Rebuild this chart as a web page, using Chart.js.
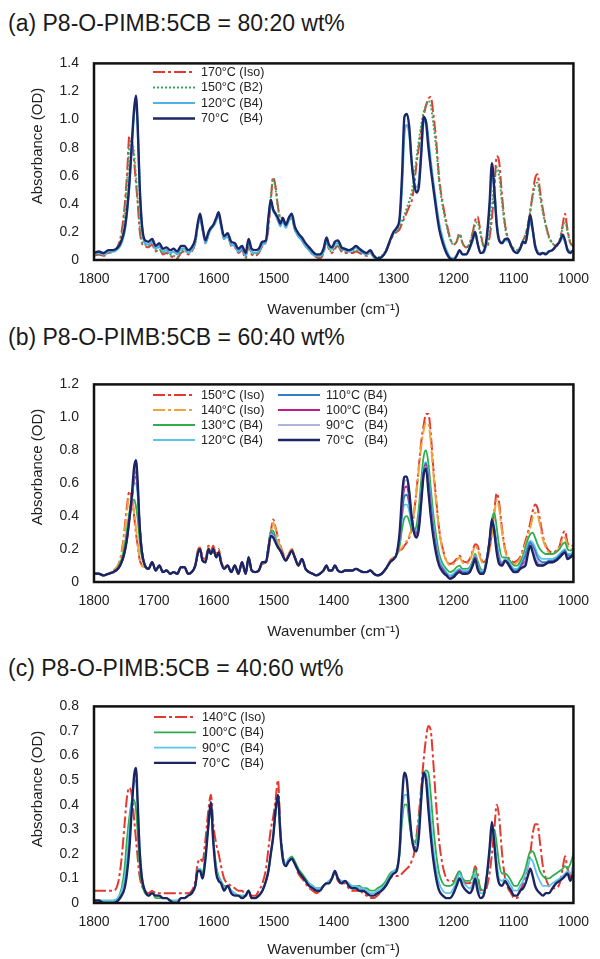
<!DOCTYPE html>
<html>
<head>
<meta charset="utf-8">
<script src="https://cdn.jsdelivr.net/npm/chart.js@4.4.1/dist/chart.umd.min.js"></script>
<style>
  html, body { margin: 0; padding: 0; background: #fff; overflow: hidden; }
  body { width: 600px; height: 959px; position: relative; font-family: "Liberation Sans", Arial, sans-serif; }
  .ptitle { position: absolute; left: 8px; font-size: 23px; line-height: 28px; color: #1a1a1a; white-space: nowrap; }
  canvas { position: absolute; left: 0; }
</style>
</head>
<body>
<div class="ptitle" style="top:9px">(a) P8-O-PIMB:5CB = 80:20 wt%</div>
<div class="ptitle" style="top:323px">(b) P8-O-PIMB:5CB = 60:40 wt%</div>
<div class="ptitle" style="top:654px">(c) P8-O-PIMB:5CB = 40:60 wt%</div>
<canvas id="chartA" width="600" height="285" style="top:40px"></canvas>
<canvas id="chartB" width="600" height="286" style="top:361px"></canvas>
<canvas id="chartC" width="600" height="276" style="top:683px"></canvas>
<script>
// shared wavenumber grid (cm-1)
const wavenumbers = [
  1800,1792,1784,1776,1768,1760,1754,1749,1745,1741,
  1737,1733,1730,1727,1724,1720,1715,1709,1703,1697,
  1691,1685,1679,1673,1667,1661,1655,1649,1643,1637,
  1631,1627,1623,1619,1614,1609,1605,1601,1596,1592,
  1588,1583,1577,1571,1565,1559,1553,1547,1542,1537,
  1531,1525,1519,1513,1509,1505,1501,1497,1493,1489,
  1485,1480,1475,1470,1465,1459,1453,1447,1441,1435,
  1429,1423,1417,1412,1408,1403,1398,1393,1387,1381,
  1375,1369,1363,1357,1351,1345,1339,1333,1327,1320,
  1313,1306,1300,1295,1290,1286,1282,1278,1274,1270,
  1266,1262,1258,1254,1250,1246,1242,1238,1234,1229,
  1224,1218,1212,1206,1200,1195,1190,1185,1179,1173,
  1168,1164,1160,1155,1150,1145,1140,1136,1132,1128,
  1124,1119,1114,1109,1104,1099,1094,1089,1084,1080,
  1076,1072,1068,1064,1060,1056,1051,1046,1041,1035,
  1029,1023,1018,1014,1010,1005,1000
];
const xTicks = [1800, 1700, 1600, 1500, 1400, 1300, 1200, 1100, 1000];

// (a) 80:20 wt%
const a170 = [
  0.03,0.04,0.03,0.05,0.06,0.10,0.20,0.38,0.60,0.88,
  0.86,0.70,0.55,0.40,0.22,0.12,0.10,0.09,0.11,0.06,
  0.08,0.04,0.05,0.03,0.02,0.01,0.05,0.06,0.04,0.06,
  0.12,0.24,0.31,0.22,0.12,0.18,0.22,0.24,0.29,0.33,
  0.25,0.15,0.17,0.10,0.09,0.05,0.07,0.01,0.10,0.04,
  0.03,0.05,0.10,0.13,0.22,0.42,0.59,0.52,0.38,0.30,
  0.30,0.25,0.28,0.30,0.22,0.17,0.14,0.10,0.07,0.04,
  0.02,0.01,0.05,0.13,0.08,0.05,0.08,0.10,0.06,0.05,
  0.05,0.05,0.06,0.05,0.04,0.03,0.05,0.02,0.01,0.02,
  0.06,0.13,0.18,0.20,0.22,0.26,0.30,0.34,0.38,0.42,
  0.52,0.68,0.80,0.92,1.02,1.10,1.15,1.16,1.05,0.85,
  0.58,0.40,0.27,0.16,0.11,0.13,0.19,0.12,0.09,0.12,
  0.20,0.28,0.31,0.20,0.10,0.09,0.16,0.30,0.50,0.74,
  0.70,0.45,0.25,0.15,0.10,0.08,0.07,0.09,0.14,0.18,
  0.25,0.35,0.47,0.58,0.61,0.50,0.36,0.25,0.17,0.12,
  0.10,0.14,0.25,0.33,0.22,0.12,0.10
];
const a150 = [
  0.04,0.04,0.04,0.05,0.06,0.09,0.17,0.32,0.55,0.80,
  0.85,0.75,0.60,0.44,0.26,0.14,0.11,0.10,0.12,0.07,
  0.09,0.05,0.06,0.04,0.03,0.02,0.06,0.07,0.05,0.07,
  0.13,0.25,0.31,0.22,0.13,0.19,0.22,0.24,0.29,0.33,
  0.25,0.16,0.18,0.11,0.10,0.06,0.08,0.02,0.11,0.05,
  0.04,0.06,0.11,0.14,0.25,0.45,0.58,0.50,0.37,0.30,
  0.30,0.25,0.28,0.30,0.22,0.17,0.14,0.10,0.07,0.05,
  0.03,0.02,0.06,0.13,0.08,0.06,0.09,0.10,0.07,0.06,
  0.06,0.06,0.07,0.06,0.05,0.04,0.05,0.03,0.02,0.03,
  0.07,0.14,0.19,0.21,0.24,0.28,0.32,0.37,0.42,0.48,
  0.58,0.72,0.85,0.96,1.05,1.10,1.13,1.10,0.98,0.80,
  0.56,0.38,0.25,0.15,0.11,0.13,0.18,0.12,0.09,0.12,
  0.19,0.25,0.27,0.18,0.10,0.10,0.20,0.38,0.55,0.66,
  0.60,0.40,0.23,0.14,0.10,0.08,0.07,0.09,0.14,0.18,
  0.25,0.35,0.45,0.53,0.55,0.46,0.34,0.24,0.16,0.12,
  0.10,0.14,0.23,0.28,0.20,0.12,0.10
];
const a120 = [
  0.04,0.05,0.04,0.06,0.06,0.08,0.12,0.20,0.33,0.52,
  0.80,1.05,1.12,0.93,0.55,0.24,0.12,0.11,0.13,0.08,
  0.10,0.06,0.07,0.05,0.06,0.04,0.08,0.08,0.05,0.07,
  0.13,0.24,0.31,0.22,0.12,0.18,0.22,0.24,0.28,0.32,
  0.24,0.15,0.17,0.11,0.10,0.06,0.08,0.03,0.13,0.06,
  0.05,0.06,0.11,0.13,0.28,0.41,0.35,0.32,0.28,0.24,
  0.28,0.23,0.28,0.31,0.22,0.17,0.14,0.10,0.07,0.04,
  0.03,0.03,0.06,0.14,0.09,0.08,0.11,0.12,0.08,0.07,
  0.06,0.07,0.09,0.07,0.05,0.04,0.06,0.02,0.01,0.02,
  0.06,0.14,0.20,0.22,0.28,0.52,0.90,0.96,0.90,0.70,
  0.56,0.52,0.56,0.78,0.98,1.00,0.86,0.70,0.56,0.40,
  0.26,0.15,0.07,0.02,0.01,0.03,0.06,0.04,0.04,0.08,
  0.14,0.19,0.12,0.05,0.05,0.13,0.36,0.62,0.50,0.27,
  0.15,0.12,0.14,0.14,0.10,0.06,0.05,0.08,0.12,0.12,
  0.20,0.27,0.21,0.11,0.06,0.05,0.05,0.05,0.06,0.07,
  0.10,0.13,0.16,0.13,0.08,0.06,0.07
];
const a70 = [
  0.05,0.06,0.05,0.07,0.07,0.09,0.14,0.22,0.35,0.55,
  0.82,1.08,1.17,0.95,0.55,0.25,0.14,0.13,0.15,0.10,
  0.12,0.08,0.09,0.07,0.08,0.06,0.10,0.10,0.07,0.09,
  0.15,0.26,0.33,0.24,0.14,0.20,0.23,0.25,0.30,0.34,
  0.26,0.17,0.19,0.13,0.12,0.08,0.10,0.05,0.15,0.08,
  0.07,0.08,0.13,0.14,0.30,0.43,0.36,0.33,0.30,0.26,
  0.30,0.25,0.30,0.33,0.24,0.19,0.16,0.12,0.09,0.06,
  0.04,0.04,0.08,0.16,0.11,0.09,0.13,0.14,0.09,0.08,
  0.07,0.08,0.10,0.08,0.06,0.05,0.07,0.03,0.01,0.02,
  0.06,0.14,0.20,0.23,0.30,0.60,1.02,1.04,0.95,0.70,
  0.55,0.48,0.52,0.75,1.02,0.98,0.80,0.65,0.52,0.36,
  0.22,0.12,0.05,0.01,0.00,0.03,0.07,0.04,0.04,0.09,
  0.15,0.20,0.12,0.05,0.06,0.15,0.40,0.69,0.50,0.25,
  0.14,0.12,0.15,0.15,0.10,0.06,0.05,0.08,0.13,0.12,
  0.22,0.32,0.22,0.10,0.05,0.04,0.05,0.04,0.06,0.07,
  0.10,0.13,0.18,0.14,0.07,0.05,0.07
];

// (b) 60:40 wt%
const b150 = [
  0.05,0.05,0.04,0.05,0.07,0.10,0.18,0.32,0.46,0.55,
  0.52,0.40,0.30,0.22,0.14,0.10,0.09,0.08,0.12,0.07,
  0.10,0.06,0.07,0.05,0.06,0.05,0.09,0.09,0.05,0.06,
  0.10,0.19,0.21,0.15,0.14,0.22,0.19,0.22,0.17,0.20,
  0.13,0.09,0.10,0.06,0.10,0.05,0.12,0.05,0.14,0.07,
  0.06,0.07,0.11,0.12,0.18,0.30,0.38,0.33,0.27,0.22,
  0.18,0.14,0.17,0.20,0.15,0.10,0.14,0.08,0.06,0.05,
  0.04,0.05,0.07,0.10,0.07,0.07,0.10,0.07,0.06,0.07,
  0.07,0.07,0.08,0.07,0.06,0.06,0.07,0.05,0.04,0.05,
  0.08,0.13,0.15,0.17,0.19,0.20,0.22,0.24,0.27,0.32,
  0.42,0.55,0.70,0.85,0.95,1.02,1.02,0.90,0.70,0.50,
  0.32,0.20,0.13,0.11,0.12,0.14,0.16,0.13,0.12,0.14,
  0.19,0.23,0.22,0.15,0.12,0.14,0.20,0.30,0.43,0.54,
  0.48,0.32,0.20,0.15,0.13,0.12,0.13,0.15,0.20,0.25,
  0.30,0.36,0.43,0.47,0.45,0.38,0.28,0.22,0.19,0.18,
  0.19,0.22,0.29,0.31,0.24,0.22,0.22
];
const b140 = [
  0.05,0.05,0.04,0.05,0.07,0.10,0.17,0.30,0.43,0.52,
  0.51,0.42,0.33,0.24,0.15,0.10,0.09,0.08,0.12,0.07,
  0.10,0.06,0.07,0.05,0.06,0.05,0.09,0.09,0.05,0.06,
  0.10,0.18,0.21,0.14,0.13,0.21,0.18,0.21,0.16,0.19,
  0.13,0.09,0.10,0.06,0.10,0.05,0.12,0.05,0.14,0.07,
  0.06,0.07,0.11,0.12,0.18,0.29,0.36,0.32,0.26,0.21,
  0.17,0.14,0.17,0.20,0.15,0.10,0.14,0.08,0.06,0.05,
  0.04,0.05,0.07,0.10,0.07,0.07,0.10,0.07,0.06,0.07,
  0.07,0.07,0.08,0.07,0.06,0.06,0.07,0.05,0.04,0.05,
  0.08,0.13,0.15,0.17,0.19,0.21,0.23,0.25,0.28,0.33,
  0.42,0.54,0.68,0.82,0.92,0.97,0.96,0.85,0.67,0.48,
  0.31,0.19,0.13,0.10,0.11,0.13,0.15,0.12,0.11,0.13,
  0.18,0.22,0.20,0.14,0.11,0.13,0.19,0.29,0.41,0.50,
  0.45,0.30,0.19,0.14,0.12,0.11,0.12,0.14,0.19,0.23,
  0.28,0.33,0.39,0.42,0.41,0.35,0.26,0.21,0.18,0.17,
  0.18,0.21,0.26,0.27,0.22,0.20,0.20
];
const b130 = [
  0.05,0.05,0.04,0.05,0.06,0.09,0.14,0.22,0.32,0.42,
  0.49,0.50,0.46,0.38,0.26,0.15,0.10,0.08,0.12,0.07,
  0.10,0.06,0.07,0.05,0.06,0.05,0.09,0.09,0.05,0.06,
  0.10,0.17,0.20,0.13,0.12,0.20,0.17,0.20,0.15,0.18,
  0.12,0.08,0.10,0.06,0.10,0.05,0.12,0.05,0.15,0.07,
  0.06,0.07,0.12,0.13,0.22,0.31,0.31,0.27,0.22,0.19,
  0.16,0.13,0.16,0.19,0.15,0.10,0.14,0.08,0.06,0.05,
  0.04,0.05,0.07,0.10,0.07,0.07,0.10,0.07,0.06,0.07,
  0.07,0.07,0.08,0.07,0.06,0.06,0.07,0.05,0.04,0.05,
  0.08,0.12,0.14,0.17,0.22,0.32,0.39,0.40,0.37,0.32,
  0.31,0.34,0.45,0.62,0.76,0.80,0.72,0.57,0.42,0.28,
  0.17,0.11,0.08,0.06,0.07,0.09,0.10,0.08,0.08,0.09,
  0.13,0.17,0.13,0.08,0.07,0.14,0.24,0.38,0.42,0.33,
  0.22,0.15,0.15,0.14,0.12,0.10,0.10,0.12,0.16,0.21,
  0.26,0.29,0.30,0.27,0.23,0.20,0.18,0.17,0.17,0.17,
  0.18,0.20,0.23,0.24,0.20,0.19,0.20
];
const b120 = [
  0.05,0.05,0.04,0.05,0.06,0.08,0.12,0.18,0.27,0.40,
  0.52,0.60,0.60,0.52,0.36,0.19,0.10,0.08,0.12,0.07,
  0.10,0.06,0.07,0.05,0.06,0.05,0.09,0.09,0.05,0.06,
  0.10,0.17,0.20,0.13,0.12,0.20,0.17,0.20,0.15,0.18,
  0.12,0.08,0.10,0.06,0.10,0.05,0.12,0.05,0.15,0.07,
  0.06,0.07,0.12,0.12,0.21,0.30,0.29,0.26,0.22,0.19,
  0.16,0.13,0.16,0.19,0.15,0.10,0.14,0.08,0.06,0.05,
  0.04,0.05,0.07,0.10,0.07,0.07,0.10,0.07,0.06,0.07,
  0.07,0.07,0.08,0.07,0.06,0.06,0.07,0.05,0.04,0.05,
  0.08,0.12,0.14,0.17,0.25,0.39,0.47,0.47,0.43,0.35,
  0.31,0.31,0.39,0.55,0.69,0.73,0.65,0.50,0.36,0.23,
  0.14,0.09,0.06,0.04,0.05,0.07,0.08,0.07,0.07,0.08,
  0.12,0.16,0.11,0.07,0.07,0.14,0.25,0.37,0.34,0.24,
  0.16,0.12,0.14,0.13,0.10,0.08,0.08,0.10,0.14,0.18,
  0.23,0.25,0.24,0.21,0.17,0.15,0.14,0.14,0.14,0.14,
  0.15,0.17,0.19,0.20,0.17,0.17,0.19
];
const b110 = [
  0.05,0.05,0.04,0.05,0.06,0.08,0.12,0.18,0.26,0.39,
  0.50,0.62,0.64,0.55,0.36,0.19,0.10,0.08,0.12,0.07,
  0.10,0.06,0.07,0.05,0.06,0.05,0.09,0.09,0.05,0.06,
  0.10,0.17,0.20,0.13,0.12,0.20,0.17,0.20,0.15,0.18,
  0.12,0.08,0.10,0.06,0.10,0.05,0.12,0.05,0.15,0.07,
  0.06,0.07,0.12,0.12,0.21,0.30,0.29,0.25,0.21,0.19,
  0.16,0.13,0.16,0.19,0.15,0.10,0.14,0.08,0.06,0.05,
  0.04,0.05,0.07,0.10,0.07,0.07,0.10,0.07,0.06,0.07,
  0.07,0.07,0.08,0.07,0.06,0.06,0.07,0.05,0.04,0.05,
  0.08,0.12,0.14,0.17,0.26,0.42,0.52,0.53,0.47,0.37,
  0.31,0.30,0.37,0.52,0.67,0.72,0.62,0.47,0.33,0.21,
  0.12,0.08,0.05,0.03,0.04,0.06,0.07,0.06,0.06,0.07,
  0.11,0.15,0.10,0.06,0.06,0.13,0.25,0.36,0.32,0.22,
  0.14,0.11,0.13,0.12,0.09,0.07,0.07,0.09,0.13,0.16,
  0.21,0.24,0.22,0.19,0.15,0.13,0.12,0.12,0.13,0.13,
  0.14,0.16,0.18,0.19,0.16,0.16,0.18
];
const b100 = [
  0.05,0.05,0.04,0.05,0.06,0.08,0.12,0.18,0.26,0.38,
  0.48,0.64,0.68,0.57,0.36,0.19,0.10,0.08,0.12,0.07,
  0.10,0.06,0.07,0.05,0.06,0.05,0.09,0.09,0.05,0.06,
  0.10,0.17,0.20,0.13,0.12,0.20,0.17,0.20,0.15,0.18,
  0.12,0.08,0.10,0.06,0.10,0.05,0.12,0.05,0.15,0.07,
  0.06,0.07,0.12,0.12,0.21,0.29,0.28,0.25,0.21,0.19,
  0.16,0.13,0.16,0.19,0.15,0.10,0.14,0.08,0.06,0.05,
  0.04,0.05,0.07,0.10,0.07,0.07,0.10,0.07,0.06,0.07,
  0.07,0.07,0.08,0.07,0.06,0.06,0.07,0.05,0.04,0.05,
  0.08,0.12,0.14,0.17,0.27,0.45,0.57,0.58,0.51,0.39,
  0.31,0.29,0.35,0.50,0.66,0.71,0.59,0.44,0.31,0.19,
  0.11,0.07,0.04,0.03,0.03,0.05,0.07,0.05,0.05,0.06,
  0.11,0.15,0.09,0.05,0.05,0.12,0.25,0.37,0.31,0.20,
  0.13,0.10,0.13,0.11,0.08,0.06,0.06,0.08,0.11,0.13,
  0.19,0.22,0.20,0.16,0.12,0.10,0.10,0.11,0.12,0.12,
  0.13,0.15,0.17,0.18,0.15,0.15,0.17
];
const b90 = [
  0.05,0.05,0.04,0.05,0.06,0.08,0.12,0.18,0.26,0.38,
  0.50,0.66,0.70,0.58,0.35,0.18,0.10,0.08,0.12,0.07,
  0.10,0.06,0.07,0.05,0.06,0.05,0.09,0.09,0.05,0.06,
  0.10,0.17,0.20,0.13,0.12,0.20,0.17,0.20,0.15,0.18,
  0.12,0.08,0.10,0.06,0.10,0.05,0.12,0.05,0.15,0.07,
  0.06,0.07,0.12,0.12,0.21,0.29,0.28,0.25,0.21,0.19,
  0.16,0.13,0.16,0.19,0.15,0.10,0.14,0.08,0.06,0.05,
  0.04,0.05,0.07,0.10,0.07,0.07,0.10,0.07,0.06,0.07,
  0.07,0.07,0.08,0.07,0.06,0.06,0.07,0.05,0.04,0.05,
  0.08,0.12,0.14,0.17,0.28,0.48,0.61,0.62,0.54,0.40,
  0.31,0.28,0.33,0.49,0.65,0.70,0.57,0.42,0.30,0.18,
  0.11,0.06,0.04,0.03,0.03,0.05,0.06,0.05,0.05,0.06,
  0.10,0.14,0.09,0.05,0.05,0.12,0.25,0.37,0.30,0.19,
  0.12,0.10,0.13,0.11,0.08,0.06,0.06,0.08,0.10,0.12,
  0.18,0.22,0.20,0.16,0.13,0.11,0.11,0.11,0.12,0.12,
  0.13,0.15,0.17,0.18,0.15,0.15,0.17
];
const b70 = [
  0.05,0.05,0.04,0.05,0.06,0.08,0.12,0.18,0.26,0.38,
  0.52,0.70,0.74,0.60,0.35,0.18,0.10,0.08,0.12,0.07,
  0.10,0.06,0.07,0.05,0.06,0.05,0.09,0.09,0.05,0.06,
  0.10,0.17,0.20,0.13,0.12,0.20,0.17,0.20,0.15,0.18,
  0.12,0.08,0.10,0.06,0.10,0.05,0.12,0.05,0.15,0.07,
  0.06,0.07,0.12,0.12,0.20,0.28,0.27,0.24,0.21,0.19,
  0.16,0.13,0.16,0.19,0.15,0.10,0.14,0.08,0.06,0.05,
  0.04,0.05,0.07,0.10,0.07,0.07,0.10,0.07,0.06,0.07,
  0.07,0.07,0.08,0.07,0.06,0.06,0.07,0.05,0.04,0.05,
  0.08,0.12,0.14,0.17,0.30,0.52,0.64,0.64,0.55,0.40,
  0.30,0.27,0.32,0.48,0.65,0.69,0.55,0.40,0.28,0.17,
  0.10,0.06,0.04,0.02,0.03,0.05,0.06,0.05,0.05,0.06,
  0.10,0.14,0.08,0.05,0.05,0.12,0.25,0.38,0.30,0.18,
  0.11,0.10,0.13,0.11,0.08,0.06,0.06,0.08,0.09,0.10,
  0.17,0.22,0.18,0.13,0.10,0.10,0.10,0.11,0.12,0.12,
  0.13,0.15,0.17,0.18,0.14,0.15,0.17
];

// (c) 40:60 wt%
const c140 = [
  0.05,0.05,0.05,0.05,0.05,0.08,0.18,0.32,0.43,0.47,
  0.44,0.34,0.26,0.18,0.11,0.07,0.05,0.04,0.05,0.04,
  0.04,0.04,0.04,0.04,0.04,0.04,0.04,0.04,0.04,0.05,
  0.09,0.16,0.18,0.17,0.26,0.38,0.44,0.32,0.24,0.20,
  0.15,0.10,0.08,0.07,0.06,0.05,0.05,0.03,0.04,0.03,
  0.03,0.05,0.08,0.14,0.22,0.30,0.35,0.42,0.50,0.30,
  0.20,0.16,0.17,0.18,0.16,0.12,0.10,0.08,0.06,0.05,
  0.04,0.05,0.07,0.08,0.08,0.10,0.12,0.09,0.08,0.08,
  0.06,0.05,0.05,0.05,0.04,0.03,0.02,0.02,0.03,0.05,
  0.07,0.10,0.11,0.11,0.11,0.12,0.13,0.14,0.15,0.17,
  0.20,0.27,0.36,0.47,0.58,0.67,0.72,0.70,0.58,0.40,
  0.25,0.15,0.10,0.09,0.09,0.11,0.13,0.10,0.08,0.08,
  0.11,0.15,0.12,0.05,0.04,0.06,0.12,0.20,0.30,0.40,
  0.35,0.20,0.10,0.06,0.04,0.02,0.02,0.05,0.08,0.11,
  0.15,0.20,0.28,0.32,0.32,0.25,0.15,0.10,0.07,0.06,
  0.06,0.08,0.14,0.19,0.14,0.11,0.10
];
const c100 = [
  0.01,0.01,0.01,0.01,0.01,0.02,0.06,0.14,0.26,0.35,
  0.41,0.42,0.38,0.28,0.16,0.08,0.04,0.03,0.04,0.02,
  0.02,0.02,0.02,0.01,0.01,0.01,0.02,0.02,0.03,0.04,
  0.07,0.13,0.14,0.12,0.20,0.32,0.38,0.26,0.15,0.11,
  0.09,0.07,0.07,0.05,0.04,0.03,0.03,0.03,0.05,0.02,
  0.02,0.03,0.05,0.09,0.13,0.20,0.27,0.36,0.42,0.28,
  0.19,0.16,0.18,0.19,0.17,0.14,0.12,0.10,0.08,0.07,
  0.06,0.06,0.07,0.08,0.09,0.10,0.12,0.10,0.09,0.09,
  0.08,0.07,0.07,0.07,0.06,0.06,0.05,0.05,0.06,0.07,
  0.09,0.12,0.13,0.14,0.20,0.33,0.40,0.40,0.33,0.27,
  0.25,0.26,0.33,0.45,0.52,0.54,0.53,0.44,0.32,0.20,
  0.12,0.08,0.07,0.07,0.08,0.11,0.13,0.10,0.09,0.09,
  0.11,0.14,0.10,0.06,0.05,0.10,0.20,0.28,0.30,0.24,
  0.16,0.12,0.12,0.11,0.09,0.07,0.07,0.09,0.11,0.14,
  0.18,0.21,0.21,0.19,0.16,0.13,0.11,0.10,0.10,0.11,
  0.12,0.13,0.14,0.15,0.14,0.16,0.20
];
const c90 = [
  0.01,0.01,0.01,0.01,0.01,0.02,0.05,0.10,0.18,0.30,
  0.42,0.49,0.50,0.40,0.24,0.11,0.05,0.03,0.04,0.03,
  0.03,0.02,0.02,0.01,0.01,0.01,0.02,0.02,0.03,0.04,
  0.07,0.13,0.14,0.11,0.19,0.32,0.39,0.26,0.14,0.10,
  0.09,0.06,0.07,0.05,0.04,0.03,0.03,0.03,0.05,0.02,
  0.02,0.03,0.05,0.09,0.13,0.20,0.27,0.37,0.43,0.28,
  0.19,0.16,0.18,0.18,0.16,0.13,0.11,0.09,0.08,0.07,
  0.06,0.06,0.07,0.08,0.09,0.10,0.12,0.10,0.09,0.09,
  0.08,0.07,0.07,0.06,0.06,0.05,0.04,0.04,0.05,0.06,
  0.08,0.11,0.13,0.14,0.21,0.36,0.44,0.44,0.36,0.28,
  0.24,0.24,0.31,0.44,0.53,0.53,0.45,0.34,0.23,0.14,
  0.08,0.05,0.04,0.04,0.06,0.09,0.12,0.09,0.07,0.06,
  0.08,0.12,0.07,0.04,0.04,0.10,0.21,0.31,0.27,0.17,
  0.10,0.09,0.10,0.09,0.07,0.05,0.05,0.07,0.09,0.12,
  0.15,0.18,0.17,0.14,0.11,0.09,0.07,0.07,0.07,0.08,
  0.09,0.10,0.11,0.12,0.13,0.12,0.16
];
const c70 = [
  0.01,0.01,0.00,0.00,0.00,0.01,0.03,0.06,0.12,0.22,
  0.38,0.52,0.55,0.40,0.22,0.10,0.05,0.03,0.04,0.03,
  0.03,0.02,0.02,0.01,0.00,0.00,0.02,0.02,0.03,0.04,
  0.07,0.13,0.13,0.10,0.18,0.32,0.41,0.25,0.12,0.09,
  0.08,0.05,0.07,0.04,0.03,0.03,0.02,0.03,0.05,0.02,
  0.02,0.03,0.05,0.09,0.13,0.20,0.27,0.38,0.44,0.28,
  0.18,0.15,0.17,0.18,0.16,0.13,0.11,0.09,0.07,0.06,
  0.05,0.05,0.07,0.08,0.08,0.10,0.13,0.10,0.08,0.09,
  0.07,0.06,0.06,0.05,0.05,0.04,0.03,0.03,0.04,0.05,
  0.07,0.10,0.12,0.13,0.22,0.42,0.53,0.50,0.38,0.27,
  0.22,0.21,0.27,0.42,0.53,0.50,0.38,0.27,0.18,0.10,
  0.05,0.03,0.02,0.02,0.04,0.07,0.10,0.07,0.05,0.04,
  0.06,0.10,0.05,0.02,0.03,0.10,0.22,0.33,0.24,0.13,
  0.08,0.07,0.09,0.07,0.05,0.03,0.03,0.05,0.06,0.08,
  0.11,0.14,0.11,0.07,0.05,0.04,0.03,0.04,0.04,0.06,
  0.08,0.09,0.10,0.11,0.12,0.09,0.13
];

const FONT = '"Liberation Sans", Arial, sans-serif';
const dashDot = [12, 3, 3, 3];

function series(vals) {
  return wavenumbers.map((w, i) => ({ x: w, y: vals[i] }));
}

function line(label, vals, color, width, dash) {
  return {
    label: label,
    data: series(vals),
    borderColor: color,
    borderWidth: width,
    borderDash: dash || [],
    pointRadius: 0,
    fill: false,
    cubicInterpolationMode: 'monotone'
  };
}

// frame round the plot, legend inside the plot, y title
const panelDecor = {
  id: 'panelDecor',
  afterDatasetsDraw(chart, args, opts) {
    const ctx = chart.ctx;
    const area = chart.chartArea;
    ctx.save();
    ctx.lineWidth = 2.5;
    ctx.strokeStyle = '#111';
    ctx.setLineDash([]);
    ctx.strokeRect(area.left, area.top, area.right - area.left, area.bottom - area.top);

    ctx.font = '12.5px ' + FONT;
    ctx.textBaseline = 'middle';
    ctx.textAlign = 'left';
    chart.data.datasets.forEach((ds, i) => {
      const col = Math.floor(i / opts.rows);
      const row = i % opts.rows;
      const x = opts.x + col * opts.colGap;
      const y = opts.y + row * opts.rowGap;
      ctx.strokeStyle = ds.borderColor;
      ctx.lineWidth = ds.borderWidth;
      ctx.setLineDash(ds.borderDash);
      ctx.beginPath();
      ctx.moveTo(x, y);
      ctx.lineTo(x + 42, y);
      ctx.stroke();
      ctx.setLineDash([]);
      ctx.fillStyle = '#222';
      ctx.fillText(ds.label, x + 48, y + 0.5);
    });

    ctx.translate(38, opts.yTitleY);
    ctx.rotate(-Math.PI / 2);
    ctx.textAlign = 'center';
    ctx.font = '15px ' + FONT;
    ctx.fillStyle = '#222';
    ctx.fillText('Absorbance (OD)', 0, 0);
    ctx.restore();
  }
};

function makePanel(id, datasets, yMax, yStep, xAxisHeight, xTitlePad, legend) {
  const n = datasets.length;
  datasets.forEach((ds, i) => { ds.order = n - i; });
  return new Chart(document.getElementById(id), {
    type: 'line',
    data: { datasets: datasets },
    options: {
      animation: false,
      responsive: false,
      events: [],
      layout: { padding: { top: 16, right: 17, bottom: 0, left: 0 } },
      plugins: {
        legend: { display: false },
        tooltip: { enabled: false },
        panelDecor: legend
      },
      scales: {
        x: {
          type: 'linear',
          reverse: true,
          min: 1000,
          max: 1800,
          afterBuildTicks: s => { s.ticks = xTicks.map(v => ({ value: v })); },
          afterFit: s => { s.height = xAxisHeight; },
          grid: { display: false, drawTicks: false },
          border: { display: false },
          ticks: {
            padding: 11,
            color: '#222',
            font: { family: FONT, size: 14 },
            maxRotation: 0,
            callback: v => String(Math.round(v))
          },
          title: {
            display: true,
            text: 'Wavenumber (cm\u207B\u00B9)',
            color: '#222',
            font: { family: FONT, size: 15 },
            padding: { top: 0, bottom: xTitlePad }
          }
        },
        y: {
          min: 0,
          max: yMax,
          afterFit: s => { s.width = 94; },
          grid: { display: false, drawTicks: false },
          border: { display: false },
          ticks: {
            stepSize: yStep,
            padding: 15,
            color: '#222',
            font: { family: FONT, size: 14 },
            callback: v => (Math.abs(v) < 1e-9 ? '0' : v.toFixed(1))
          }
        }
      }
    },
    plugins: [panelDecor]
  });
}

makePanel('chartA', [
  line('170\u00B0C (Iso)', a170, '#e3392f', 2, dashDot),
  line('150\u00B0C (B2)', a150, '#3aa85c', 2, [2, 2]),
  line('120\u00B0C (B4)', a120, '#4fb2e6', 2.2),
  line('70\u00B0C   (B4)', a70, '#1c2766', 2.4)
], 1.4, 0.2, 65, 6, { x: 153, y: 32, rows: 4, rowGap: 15.5, colGap: 0, yTitleY: 106 });

makePanel('chartB', [
  line('150\u00B0C (Iso)', b150, '#e3392f', 2, dashDot),
  line('140\u00B0C (Iso)', b140, '#f2a33a', 2, dashDot),
  line('130\u00B0C (B4)', b130, '#2fae4e', 1.8),
  line('120\u00B0C (B4)', b120, '#5cc3ec', 1.8),
  line('110\u00B0C (B4)', b110, '#2f7ec7', 1.8),
  line('100\u00B0C (B4)', b100, '#c21a8a', 1.8),
  line('90\u00B0C   (B4)', b90, '#aab4dc', 1.8),
  line('70\u00B0C   (B4)', b70, '#1c2564', 2.4)
], 1.2, 0.2, 65, 6, { x: 153, y: 34, rows: 4, rowGap: 15, colGap: 125, yTitleY: 106 });

makePanel('chartC', [
  line('140\u00B0C (Iso)', c140, '#e3392f', 2, dashDot),
  line('100\u00B0C (B4)', c100, '#2fae4e', 1.8),
  line('90\u00B0C   (B4)', c90, '#5cc3ec', 1.8),
  line('70\u00B0C   (B4)', c70, '#1c2564', 2.4)
], 0.8, 0.1, 56, 0, { x: 154, y: 34, rows: 4, rowGap: 15.3, colGap: 0, yTitleY: 106 });
</script>
</body>
</html>
